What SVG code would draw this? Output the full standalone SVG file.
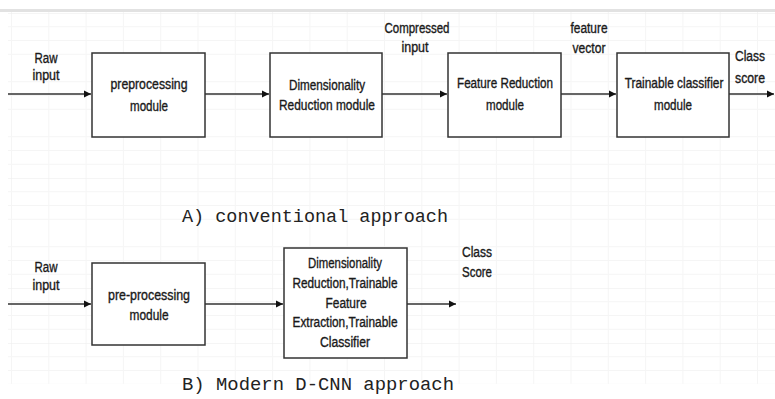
<svg xmlns="http://www.w3.org/2000/svg" width="775" height="399" viewBox="0 0 775 399">
<defs>
<pattern id="grid" x="11" y="13" width="37.3" height="55" patternUnits="userSpaceOnUse">
<path d="M0 0V55" stroke="#ececec" stroke-width="1" fill="none"/>
<path d="M0 0H37.3" stroke="#ececec" stroke-width="1" fill="none"/>
<path d="M0 13.75H37.3M0 27.5H37.3M0 41.25H37.3" stroke="#f5f5f5" stroke-width="1" fill="none"/>
</pattern>
<marker id="ah" markerWidth="8" markerHeight="8" refX="7" refY="4" orient="auto" markerUnits="userSpaceOnUse">
<path d="M0 0.5L7 4L0 7.5Z" fill="#111"/>
</marker>
<style>
.box{fill:#fff;stroke:#333;stroke-width:1.5}
.t{font-family:"Liberation Sans",Arial,sans-serif;font-size:14px;fill:#1a1a1a;stroke:#1a1a1a;stroke-width:0.35;text-anchor:middle}
.title{font-family:"Liberation Mono","Courier New",monospace;font-size:18.5px;fill:#222}
.c{stroke:#333;stroke-width:1.5;fill:none;marker-end:url(#ah)}
</style>
</defs>
<rect width="775" height="399" fill="#fff"/>
<rect x="8" y="12" width="767" height="372" fill="url(#grid)"/>
<rect x="0" y="9" width="775" height="3" fill="#e2e2e2"/>
<g id="connectors">
<path class="c" d="M8 94H91"/>
<path class="c" d="M205 94H269"/>
<path class="c" d="M382 94H447"/>
<path class="c" d="M561 94H616"/>
<path class="c" d="M729 94H774"/>
<path class="c" d="M8 304H91"/>
<path class="c" d="M205 304H283"/>
<path class="c" d="M407 304H456"/>
</g>
<g id="labels">
<text class="t" x="46" y="63" textLength="23" lengthAdjust="spacingAndGlyphs">Raw</text>
<text class="t" x="46" y="80" textLength="27" lengthAdjust="spacingAndGlyphs">input</text>
<text class="t" x="417" y="33" textLength="65" lengthAdjust="spacingAndGlyphs">Compressed</text>
<text class="t" x="415" y="52" textLength="27" lengthAdjust="spacingAndGlyphs">input</text>
<text class="t" x="589" y="33" textLength="37" lengthAdjust="spacingAndGlyphs">feature</text>
<text class="t" x="589" y="53" textLength="33" lengthAdjust="spacingAndGlyphs">vector</text>
<text class="t" x="750" y="61" textLength="30" lengthAdjust="spacingAndGlyphs">Class</text>
<text class="t" x="750" y="83" textLength="30" lengthAdjust="spacingAndGlyphs">score</text>
<text class="t" x="46" y="272" textLength="23" lengthAdjust="spacingAndGlyphs">Raw</text>
<text class="t" x="46" y="290" textLength="27" lengthAdjust="spacingAndGlyphs">input</text>
<text class="t" x="477" y="257" textLength="30" lengthAdjust="spacingAndGlyphs">Class</text>
<text class="t" x="477" y="277" textLength="30" lengthAdjust="spacingAndGlyphs">Score</text>
</g>
<g id="n1">
<rect class="box" x="92" y="53" width="113" height="84"/>
<text class="t" x="149" y="89" textLength="77" lengthAdjust="spacingAndGlyphs">preprocessing</text>
<text class="t" x="149" y="111" textLength="38" lengthAdjust="spacingAndGlyphs">module</text>
</g>
<g id="n2">
<rect class="box" x="270" y="53" width="112" height="84"/>
<text class="t" x="327" y="90" textLength="76" lengthAdjust="spacingAndGlyphs">Dimensionality</text>
<text class="t" x="327" y="110" textLength="96" lengthAdjust="spacingAndGlyphs">Reduction module</text>
</g>
<g id="n3">
<rect class="box" x="448" y="53" width="113" height="84"/>
<text class="t" x="505" y="88" textLength="96" lengthAdjust="spacingAndGlyphs">Feature Reduction</text>
<text class="t" x="505" y="110" textLength="38" lengthAdjust="spacingAndGlyphs">module</text>
</g>
<g id="n4">
<rect class="box" x="617" y="53" width="112" height="84"/>
<text class="t" transform="translate(674 88) scale(0.85 1)" x="0" y="0">Trainable classifier</text>
<text class="t" x="673" y="110" textLength="38" lengthAdjust="spacingAndGlyphs">module</text>
</g>
<g id="titleA">
<text class="title" x="182" y="222" textLength="266" lengthAdjust="spacingAndGlyphs">A) conventional approach</text>
</g>
<g id="n5">
<rect class="box" x="92" y="263" width="113" height="82"/>
<text class="t" x="149" y="300" textLength="82" lengthAdjust="spacingAndGlyphs">pre-processing</text>
<text class="t" x="149" y="320" textLength="39" lengthAdjust="spacingAndGlyphs">module</text>
</g>
<g id="n6">
<rect class="box" x="284" y="248" width="123" height="110"/>
<text class="t" x="345" y="268" textLength="74" lengthAdjust="spacingAndGlyphs">Dimensionality</text>
<text class="t" x="345" y="288" textLength="105" lengthAdjust="spacingAndGlyphs">Reduction,Trainable</text>
<text class="t" x="346" y="308" textLength="41" lengthAdjust="spacingAndGlyphs">Feature</text>
<text class="t" x="345" y="327" textLength="105" lengthAdjust="spacingAndGlyphs">Extraction,Trainable</text>
<text class="t" x="345" y="347" textLength="50" lengthAdjust="spacingAndGlyphs">Classifier</text>
</g>
<g id="titleB">
<text class="title" x="182" y="390" textLength="272" lengthAdjust="spacingAndGlyphs">B) Modern D-CNN approach</text>
</g>
</svg>
